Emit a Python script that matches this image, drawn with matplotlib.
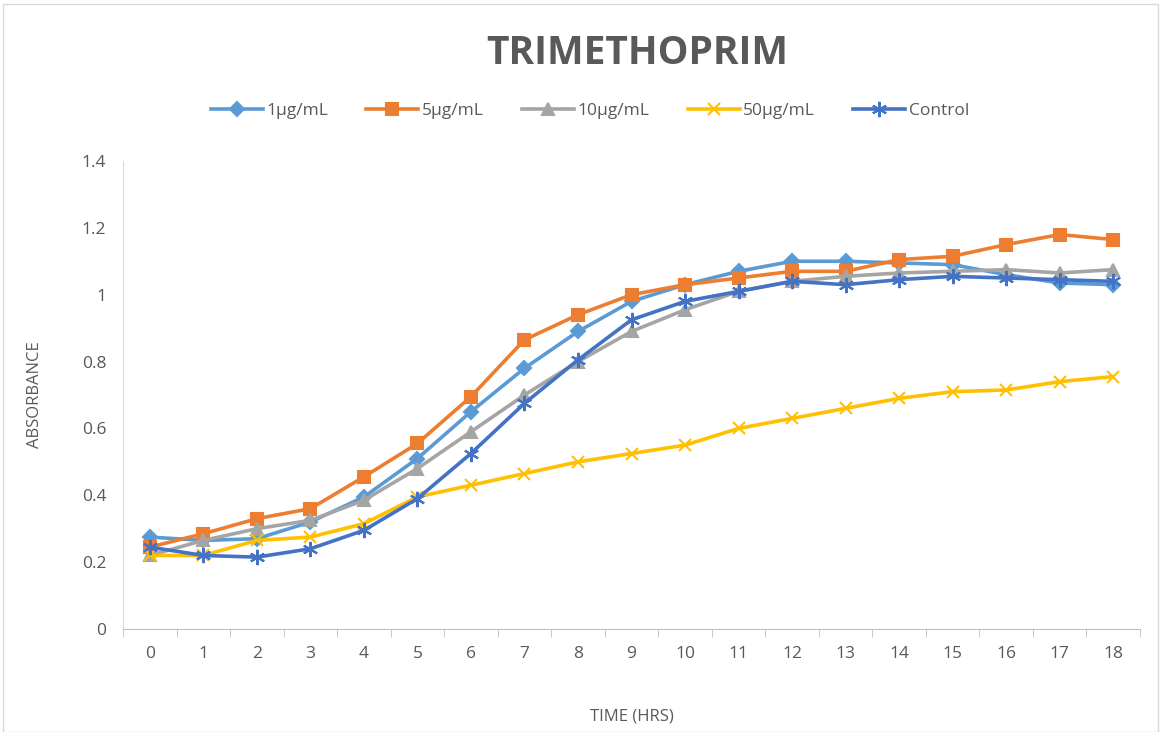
import numpy as np
import matplotlib

matplotlib.use("Agg")
import matplotlib.pyplot as plt
from matplotlib.patches import Rectangle

plt.rcParams["font.family"] = ["Open Sans", "DejaVu Sans"]

hours = list(range(19))

ug1 = [0.275, 0.265, 0.27, 0.32, 0.395, 0.51, 0.65, 0.78, 0.89, 0.98, 1.03, 1.07, 1.10, 1.10, 1.095, 1.09, 1.06, 1.035, 1.03]
ug5 = [0.245, 0.285, 0.33, 0.36, 0.455, 0.555, 0.695, 0.865, 0.94, 1.0, 1.03, 1.05, 1.07, 1.07, 1.105, 1.115, 1.15, 1.18, 1.165]
ug10 = [0.22, 0.265, 0.30, 0.325, 0.385, 0.48, 0.59, 0.70, 0.80, 0.89, 0.955, 1.01, 1.04, 1.055, 1.065, 1.07, 1.075, 1.065, 1.075]
ug50 = [0.22, 0.22, 0.265, 0.275, 0.315, 0.395, 0.43, 0.465, 0.50, 0.525, 0.55, 0.60, 0.63, 0.66, 0.69, 0.71, 0.715, 0.74, 0.755]
control = [0.245, 0.22, 0.215, 0.24, 0.295, 0.39, 0.525, 0.675, 0.805, 0.925, 0.98, 1.01, 1.04, 1.03, 1.045, 1.055, 1.05, 1.045, 1.04]

labels = ["1µg/mL", "5µg/mL", "10µg/mL", "50µg/mL", "Control"]
colors = ["#5B9BD5", "#ED7D31", "#A5A5A5", "#FFC000", "#4472C4"]
markers = ["D", "s", "^", "x", (6, 2, 0)]
msizes = [7, 9, 9, 9, 11]

fig = plt.figure(figsize=(11.61, 7.32), dpi=100)
ax = fig.add_axes([123 / 1161, 1 - 629 / 732, (1140 - 123) / 1161, (629 - 161) / 732])

for vals, lab, col, mk, ms in zip([ug1, ug5, ug10, ug50, control], labels, colors, markers, msizes):
    ax.plot(hours, vals, color=col, lw=2.6, marker=mk, markersize=ms,
            markeredgewidth=1.5, label=lab)

ax.set_xlim(-0.5, 18.5)
ax.set_ylim(0, 1.4)
ax.set_yticks(np.arange(0, 1.41, 0.2))
ax.set_yticklabels(["0", "0.2", "0.4", "0.6", "0.8", "1", "1.2", "1.4"])
ax.set_xticks(hours)
ax.set_xticks(np.arange(-0.5, 18.6, 1), minor=True)
ax.tick_params(axis="x", which="major", length=0, pad=12, labelsize=12.5, labelcolor="#595959")
ax.tick_params(axis="x", which="minor", length=6, color="#BFBFBF", direction="out")
ax.tick_params(axis="y", length=0, pad=12, labelsize=12.5, labelcolor="#595959")

for side in ["top", "right"]:
    ax.spines[side].set_visible(False)
ax.spines["left"].set_color("#D9D9D9")
ax.spines["bottom"].set_color("#BFBFBF")

ax.set_xlabel("TIME (HRS)", fontsize=12, color="#595959", labelpad=34)
ax.set_ylabel("ABSORBANCE", fontsize=12, color="#595959", labelpad=28)

fig.text(637 / 1161, 1 - 53 / 732, "TRIMETHOPRIM", ha="center", va="center",
         fontsize=28, fontweight="bold", color="#595959")

fig.legend(loc="center", bbox_to_anchor=(590 / 1161, 1 - 111 / 732), ncol=5,
           frameon=False, fontsize=12.5, labelcolor="#595959", handlelength=3,
           columnspacing=2.2, handletextpad=0.2)

fig.patches.append(Rectangle((3 / 1161, 0), 1 - 6 / 1161, 1 - 4 / 732,
                             transform=fig.transFigure, fill=False,
                             edgecolor="#D9D9D9", lw=1))

fig.savefig("out.png", dpi=100)
